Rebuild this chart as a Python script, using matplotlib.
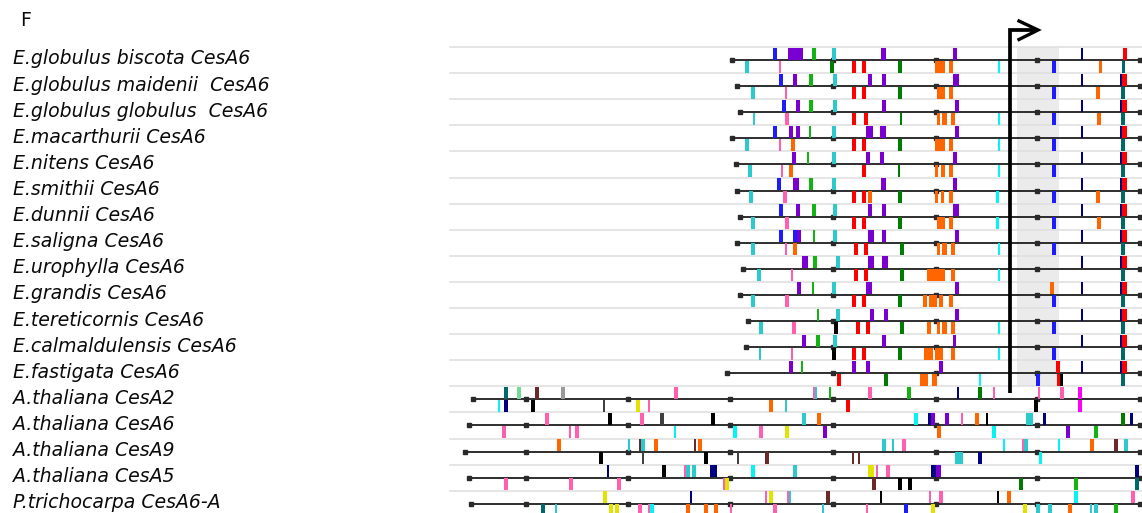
import matplotlib
matplotlib.use("Agg")
import matplotlib.pyplot as plt

# ---- sequence names (top to bottom) ----
names = [
    "E.globulus biscota CesA6", "E.globulus maidenii  CesA6", "E.globulus globulus  CesA6",
    "E.macarthurii CesA6", "E.nitens CesA6", "E.smithii CesA6", "E.dunnii CesA6",
    "E.saligna CesA6", "E.urophylla CesA6", "E.grandis CesA6", "E.tereticornis CesA6",
    "E.calmaldulensis CesA6", "E.fastigata CesA6", "A.thaliana CesA2", "A.thaliana CesA6",
    "A.thaliana CesA9", "A.thaliana CesA5", "P.trichocarpa CesA6-A",
]

# first aligned column of each sequence
seq_start = [732, 737, 740, 732, 736, 737, 740, 737, 743, 740, 748, 746, 727,
             473, 469, 465, 469, 471]

# scale ticks (every 100 residues) along the alignment
scale_ticks = [526, 628, 730, 833, 935.5, 1037, 1140]

# motif colour codes
palette = {
    "B": "#1c1cff", "P": "#7a00d2", "G": "#12b312", "C": "#2ccaca", "K": "#ff5fae",
    "D": "#007c00", "R": "#ff0000", "O": "#ff6600", "N": "#000080", "T": "#006868",
    "A": "#00f5f5", "X": "#000000", "M": "#ff00ff", "Y": "#e3e300", "W": "#6a2a2a",
    "Gr": "#9a9a9a", "L": "#70dc96", "S": "#404040",
}

# motif hits: (from column, to column, colour code, strand)
m_biscota = [
    (773, 777, "B", "+"), (788, 803, "P", "+"), (812, 816, "G", "+"), (832, 836, "C", "+"),
    (881, 886, "P", "+"), (953, 957, "P", "+"), (1081, 1082.5, "N", "+"), (1123, 1127, "R", "+"),
    (745, 749, "C", "-"), (779, 781, "K", "-"), (830, 834, "D", "-"), (852, 856, "R", "-"),
    (862, 866, "R", "-"), (898, 902, "D", "-"), (935, 945, "O", "-"), (949, 953, "O", "-"),
    (998, 999.5, "A", "-"), (1052, 1056, "B", "-"), (1099, 1102, "O", "-"), (1122, 1125, "T", "-"),
]
m_maidenii = [
    (779, 783, "B", "+"), (793, 797, "P", "+"), (809, 813, "G", "+"), (833, 837, "C", "+"),
    (868, 872, "P", "+"), (882, 886, "P", "+"), (953, 959, "P", "+"), (1081, 1082.5, "N", "+"),
    (1120, 1122, "N", "+"), (1122, 1127, "R", "+"),
    (751, 755, "C", "-"), (785, 787, "K", "-"), (852, 856, "R", "-"), (862, 866, "R", "-"),
    (898, 902, "D", "-"), (937, 945, "O", "-"), (949, 953, "O", "-"), (1052, 1056, "B", "-"),
    (1096, 1100, "O", "-"), (1121, 1125, "T", "-"),
]
m_globulus = [
    (782, 786, "B", "+"), (796, 800, "P", "+"), (809, 813, "G", "+"), (833, 837, "C", "+"),
    (882, 886, "P", "+"), (955, 959, "P", "+"), (1081, 1082.5, "N", "+"), (1120, 1122, "N", "+"),
    (1122, 1127, "R", "+"),
    (753, 755, "C", "-"), (785, 789, "K", "-"), (852, 856, "R", "-"), (864, 868, "R", "-"),
    (900, 902, "D", "-"), (937, 940, "O", "-"), (942, 947, "O", "-"), (951, 955, "O", "-"),
    (998, 999.5, "A", "-"), (1052, 1056, "B", "-"), (1097, 1101, "O", "-"), (1121, 1125, "T", "-"),
]
m_macarthurii = [
    (773, 777, "B", "+"), (789, 793, "P", "+"), (796, 800, "P", "+"), (809, 811, "G", "+"),
    (832, 836, "C", "+"), (866, 873, "P", "+"), (880, 886, "P", "+"), (955, 959, "P", "+"),
    (1081, 1082.5, "N", "+"), (1120, 1122, "N", "+"), (1122, 1127, "R", "+"),
    (745, 749, "C", "-"), (779, 781, "K", "-"), (791, 795, "O", "-"), (852, 856, "R", "-"),
    (862, 866, "R", "-"), (898, 902, "D", "-"), (935, 945, "O", "-"), (949, 953, "O", "-"),
    (998, 999.5, "A", "-"), (1052, 1056, "B", "-"), (1121, 1125, "T", "-"),
]
m_nitens = [
    (792, 796, "P", "+"), (807, 809, "G", "+"), (832, 836, "C", "+"), (866, 870, "P", "+"),
    (880, 884, "P", "+"), (953, 957, "P", "+"), (1081, 1082.5, "N", "+"), (1120, 1122, "N", "+"),
    (1122, 1127, "R", "+"),
    (748, 752, "C", "-"), (781, 783, "K", "-"), (789, 793, "O", "-"), (862, 866, "R", "-"),
    (898, 900, "D", "-"), (935, 938, "O", "-"), (941, 945, "O", "-"), (949, 953, "O", "-"),
    (998, 999.5, "A", "-"), (1052, 1056, "B", "-"), (1121, 1125, "T", "-"),
]
m_smithii = [
    (777, 781, "B", "+"), (793, 799, "P", "+"), (809, 813, "G", "+"), (832, 836, "C", "+"),
    (881, 886, "P", "+"), (953, 957, "P", "+"), (1081, 1082.5, "N", "+"), (1120, 1122, "N", "+"),
    (1122, 1127, "R", "+"),
    (749, 753, "C", "-"), (783, 787, "K", "-"), (852, 856, "R", "-"), (862, 866, "R", "-"),
    (868, 872, "O", "-"), (898, 902, "D", "-"), (935, 938, "O", "-"), (941, 944, "O", "-"),
    (949, 953, "O", "-"), (996, 999, "A", "-"), (1052, 1056, "B", "-"), (1096, 1100, "O", "-"),
    (1121, 1125, "T", "-"),
]
m_dunnii = [
    (779, 783, "B", "+"), (796, 800, "P", "+"), (812, 816, "G", "+"), (833, 837, "C", "+"),
    (868, 872, "P", "+"), (882, 886, "P", "+"), (953, 959, "P", "+"), (1081, 1082.5, "N", "+"),
    (1120, 1122, "N", "+"), (1122, 1127, "R", "+"),
    (751, 755, "C", "-"), (785, 789, "K", "-"), (852, 856, "R", "-"), (862, 866, "R", "-"),
    (898, 902, "D", "-"), (937, 945, "O", "-"), (949, 953, "O", "-"), (996, 999, "A", "-"),
    (1052, 1056, "B", "-"), (1097, 1101, "O", "-"), (1121, 1125, "T", "-"),
]
m_saligna = [
    (779, 783, "B", "+"), (793, 797, "B", "+"), (797, 801, "P", "+"), (813, 815, "G", "+"),
    (833, 837, "C", "+"), (868, 874, "P", "+"), (882, 886, "P", "+"), (955, 959, "P", "+"),
    (1081, 1082.5, "N", "+"), (1120, 1122, "N", "+"), (1122, 1127, "R", "+"),
    (751, 755, "C", "-"), (785, 787, "K", "-"), (793, 797, "O", "-"), (854, 858, "R", "-"),
    (864, 868, "R", "-"), (900, 904, "D", "-"), (937, 940, "O", "-"), (942, 947, "O", "-"),
    (951, 955, "O", "-"), (998, 999.5, "A", "-"), (1052, 1056, "B", "-"), (1121, 1125, "T", "-"),
]
m_urophylla = [
    (802, 808, "P", "+"), (813, 817, "G", "+"), (836, 840, "C", "+"), (868, 874, "P", "+"),
    (882, 888, "P", "+"), (1081, 1082.5, "N", "+"), (1120, 1122, "N", "+"), (1122, 1127, "R", "+"),
    (757, 761, "C", "-"), (791, 793, "K", "-"), (854, 858, "R", "-"), (864, 868, "R", "-"),
    (900, 904, "D", "-"), (927, 945, "O", "-"), (951, 955, "O", "-"), (998, 999.5, "A", "-"),
    (1121, 1125, "T", "-"),
]
m_grandis = [
    (797, 801, "P", "+"), (812, 814, "G", "+"), (832, 836, "C", "+"), (866, 872, "P", "+"),
    (955, 959, "P", "+"), (1050, 1054, "O", "+"), (1081, 1082.5, "N", "+"), (1120, 1122, "N", "+"),
    (1122, 1127, "R", "+"),
    (751, 755, "C", "-"), (785, 789, "K", "-"), (852, 856, "R", "-"), (862, 866, "R", "-"),
    (898, 902, "D", "-"), (923, 927, "O", "-"), (929, 937, "O", "-"), (939, 943, "O", "-"),
    (949, 953, "O", "-"), (1052, 1056, "B", "-"), (1121, 1125, "T", "-"),
]
m_tereticornis = [
    (817, 819, "G", "+"), (836, 840, "C", "+"), (870, 874, "P", "+"), (884, 888, "P", "+"),
    (955, 959, "P", "+"), (1081, 1082.5, "N", "+"), (1120, 1122, "N", "+"), (1122, 1127, "R", "+"),
    (759, 763, "C", "-"), (792, 796, "K", "-"), (834, 838, "X", "-"), (856, 860, "R", "-"),
    (866, 870, "R", "-"), (900, 904, "D", "-"), (927, 931, "O", "-"), (937, 940, "O", "-"),
    (942, 947, "O", "-"), (951, 955, "O", "-"), (998, 999.5, "A", "-"), (1052, 1056, "B", "-"),
    (1121, 1125, "T", "-"),
]
m_calmaldulensis = [
    (802, 806, "P", "+"), (816, 820, "G", "+"), (833, 837, "C", "+"), (882, 886, "P", "+"),
    (953, 956, "P", "+"), (1081, 1082.5, "N", "+"), (1120, 1122, "N", "+"), (1122, 1127, "R", "+"),
    (759, 761, "C", "-"), (791, 793, "K", "-"), (832, 836, "X", "-"), (852, 856, "R", "-"),
    (862, 866, "R", "-"), (898, 902, "D", "-"), (924, 933, "O", "-"), (935, 943, "O", "-"),
    (951, 955, "O", "-"), (998, 999.5, "A", "-"), (1052, 1056, "B", "-"), (1121, 1125, "T", "-"),
]
m_fastigata = [
    (789, 793, "P", "+"), (801, 803, "G", "+"), (852, 856, "P", "+"), (866, 870, "P", "+"),
    (939, 943, "P", "+"), (1056, 1060, "R", "+"), (1081, 1082.5, "N", "+"), (1120, 1122, "N", "+"),
    (1122, 1127, "R", "+"),
    (837, 841, "R", "-"), (884, 888, "D", "-"), (920, 928, "O", "-"), (932, 937, "O", "-"),
    (979, 981, "A", "-"), (1036, 1040, "B", "-"), (1057, 1060, "R", "-"), (1060, 1063, "X", "-"),
    (1121, 1125, "T", "-"),
]
m_at_cesa2 = [
    (504, 508, "T", "+"), (517, 521, "L", "+"), (535, 539, "W", "+"), (561, 565, "Gr", "+"),
    (674, 678, "K", "+"), (813, 815, "K", "+"), (815, 817, "C", "+"), (829, 831, "G", "+"),
    (868, 872, "K", "+"), (907, 911, "G", "+"), (957, 959, "N", "+"), (978, 982, "D", "+"),
    (993, 995, "K", "+"), (1038, 1040, "K", "+"), (1060, 1064, "K", "+"), (1078, 1082, "M", "+"),
    (498, 500, "A", "-"), (504, 508, "N", "-"), (531, 535, "X", "-"), (603, 605, "S", "-"),
    (636, 640, "Y", "-"), (648, 650, "K", "-"), (769, 773, "O", "-"), (785, 787, "C", "-"),
    (846, 850, "R", "-"), (1034, 1038, "X", "-"), (1078, 1082, "M", "-"),
]
m_at_cesa6 = [
    (545, 549, "K", "+"), (608, 612, "X", "+"), (640, 644, "K", "+"), (660, 664, "S", "+"),
    (711, 715, "X", "+"), (802, 806, "C", "+"), (817, 821, "O", "+"), (914, 918, "A", "+"),
    (928, 931, "N", "+"), (931, 935, "P", "+"), (945, 949, "P", "+"), (961, 963, "K", "+"),
    (975, 979, "O", "+"), (986, 988, "X", "+"), (1026, 1033, "C", "+"), (1043, 1046, "N", "+"),
    (1121, 1125, "D", "+"), (1130, 1133, "N", "+"),
    (502, 506, "K", "-"), (569, 571, "K", "-"), (575, 579, "K", "-"), (674, 676, "A", "-"),
    (733, 737, "A", "-"), (759, 763, "K", "-"), (785, 789, "Y", "-"), (823, 827, "P", "-"),
    (937, 941, "O", "-"), (992, 996, "A", "-"), (1066, 1070, "P", "-"), (1094, 1098, "G", "-"),
]
m_at_cesa9 = [
    (557, 561, "O", "+"), (628, 630, "C", "+"), (639, 641, "W", "+"), (641, 645, "C", "+"),
    (654, 658, "O", "+"), (694, 696, "W", "+"), (698, 702, "O", "+"), (882, 886, "C", "+"),
    (892, 894, "C", "+"), (902, 906, "K", "+"), (1003, 1005, "A", "+"), (1022, 1024, "K", "+"),
    (1024, 1028, "C", "+"), (1058, 1060, "A", "+"), (1090, 1094, "O", "+"), (1114, 1118, "W", "+"),
    (1124, 1128, "C", "+"),
    (599, 603, "X", "-"), (642, 644, "S", "-"), (704, 708, "X", "-"), (737, 739, "S", "-"),
    (765, 769, "W", "-"), (852, 854, "W", "-"), (858, 860, "W", "-"), (955, 963, "C", "-"),
    (978, 982, "N", "-"), (1039, 1042, "A", "-"),
]
m_at_cesa5 = [
    (607, 609, "N", "+"), (662, 666, "X", "+"), (684, 686, "K", "+"), (686, 690, "C", "+"),
    (692, 696, "C", "+"), (710, 717, "N", "+"), (751, 755, "A", "+"), (793, 797, "C", "+"),
    (868, 874, "Y", "+"), (876, 878, "K", "+"), (886, 890, "K", "+"), (931, 936, "N", "+"),
    (936, 941, "P", "+"), (1135, 1139, "N", "+"),
    (504, 508, "K", "-"), (569, 573, "K", "-"), (617, 621, "K", "-"), (723, 725, "K", "-"),
    (725, 729, "Y", "-"), (872, 876, "W", "-"), (898, 902, "X", "-"), (908, 912, "X", "-"),
    (1019, 1023, "D", "-"), (1074, 1078, "G", "-"), (1135, 1139, "T", "-"),
]
m_pt_cesa6a = [
    (603, 607, "Y", "+"), (690, 692, "N", "+"), (765, 767, "K", "+"), (769, 773, "Y", "+"),
    (787, 789, "K", "+"), (789, 791, "C", "+"), (826, 830, "W", "+"), (880, 882, "X", "+"),
    (929, 931, "K", "+"), (939, 943, "K", "+"), (997, 999, "X", "+"), (1007, 1011, "O", "+"),
    (1074, 1078, "A", "+"), (1131, 1135, "K", "+"),
    (541, 545, "T", "-"), (555, 557, "C", "-"), (609, 613, "Y", "-"), (615, 619, "Y", "-"),
    (638, 642, "K", "-"), (648, 650, "K", "-"), (650, 654, "A", "-"), (686, 690, "O", "-"),
    (704, 708, "O", "-"), (714, 718, "O", "-"), (730, 732, "K", "-"), (773, 777, "K", "-"),
    (822, 824, "C", "-"), (866, 868, "K", "-"), (904, 908, "B", "-"), (931, 935, "Y", "-"),
    (1023, 1027, "Y", "-"), (1036, 1040, "C", "-"), (1048, 1052, "C", "-"), (1068, 1072, "O", "-"),
    (1090, 1092, "C", "-"), (1094, 1098, "C", "-"), (1114, 1118, "G", "-"),
]

motifs = [m_biscota, m_maidenii, m_globulus, m_macarthurii, m_nitens, m_smithii,
          m_dunnii, m_saligna, m_urophylla, m_grandis, m_tereticornis, m_calmaldulensis,
          m_fastigata, m_at_cesa2, m_at_cesa6, m_at_cesa9, m_at_cesa5, m_pt_cesa6a]

# highlighted conserved block and transcription-start arrow
shade_cols = (1017, 1059)
arrow_col = 1010

# ---- layout ----
W, H = 1142, 513
fig = plt.figure(figsize=(W / 100, H / 100), dpi=100)
ax = fig.add_axes([0, 0, 1, 1])
ax.set_xlim(0, W)
ax.set_ylim(H, 0)
ax.axis("off")

row0, row_gap = 60.0, 26.1
box_h = 12.0
label_font = dict(family="DejaVu Sans", style="italic", size=13.6, color="#0a0a0a")

n_rows = len(names)
bases = [row0 + row_gap * i for i in range(n_rows)]

# shaded block behind the E. rows
ax.fill_between(list(shade_cols), bases[0] - 13, bases[12] + 13,
                color="#ebebeb", lw=0, zorder=0)

for i, (name, start, hits) in enumerate(zip(names, seq_start, motifs)):
    y = bases[i]
    # track separator
    ax.plot([450, W], [y - 13, y - 13], color="#dedede", lw=1.1, zorder=1)
    # sequence backbone
    ax.plot([start, W], [y, y], color="#1e1e1e", lw=1.3, zorder=2,
            solid_capstyle="butt")
    # start and scale ticks
    tx = [start] + [t for t in scale_ticks if t > start + 4]
    ax.plot(tx, [y] * len(tx), ls="none", marker="s", ms=3.0,
            color="#2a2a2a", mec="#2a2a2a", zorder=3)
    # motif boxes
    for x0, x1, code, strand in hits:
        w = max(x1 - x0, 1.6)
        bottom = y - box_h - 0.5 if strand == "+" else y + 0.5
        ax.bar(x0, box_h, width=w, bottom=bottom, align="edge",
               color=palette[code], edgecolor="none", zorder=4)
    ax.text(13, y + 4.5, name, va="baseline", ha="left", **label_font)

# promoter / start arrow
ax.plot([arrow_col, arrow_col, arrow_col + 27], [bases[13] - 6, 30, 30],
        color="black", lw=2.7, solid_joinstyle="miter", solid_capstyle="butt", zorder=6)
ax.plot([arrow_col + 9, arrow_col + 28, arrow_col + 9], [21, 30, 39.5],
        color="black", lw=2.4, solid_joinstyle="miter", zorder=6)

ax.text(20, 26, "F", va="baseline", ha="left", family="DejaVu Sans", size=13.6,
        color="#0a0a0a")

fig.savefig("out.png", dpi=100)
